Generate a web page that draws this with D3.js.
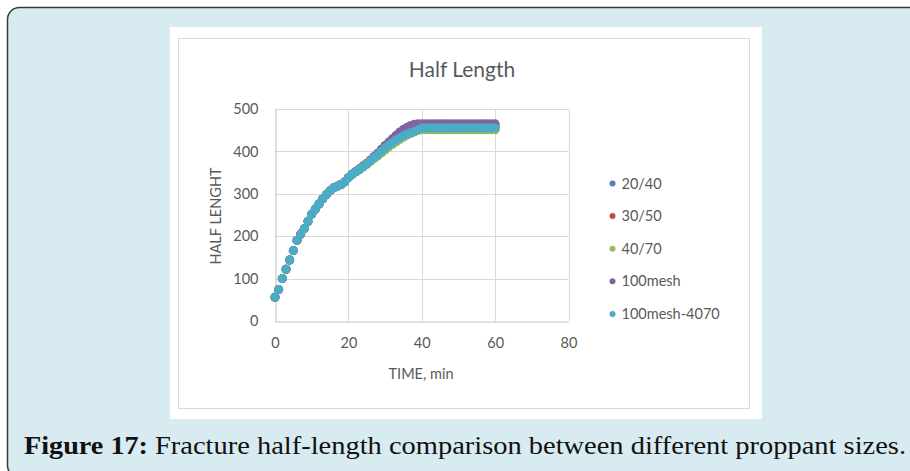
<!DOCTYPE html>
<html>
<head>
<meta charset="utf-8">
<script src="https://cdn.jsdelivr.net/npm/d3@7"></script>
<style>
  body { margin: 0; background: #fff; }
  svg { display: block; }
</style>
</head>
<body>
<div id="chart"></div>
<script>
// time in minutes
const time = [0, 1, 2, 3, 4, 5, 6, 7, 8, 9, 10, 11, 12, 13, 14, 15, 16, 17, 18, 19, 20,
    21, 22, 23, 24, 25, 26, 27, 28, 29, 30, 31, 32, 33, 34, 35, 36, 37, 38, 39, 40,
    41, 42, 43, 44, 45, 46, 47, 48, 49, 50, 51, 52, 53, 54, 55, 56, 57, 58, 59, 60];

const len2040 = [56, 74, 100, 122, 144, 166, 190, 205, 218, 235, 252, 264, 276, 288, 298, 307, 314, 318, 322, 328, 338,
    346, 352, 358, 364, 371, 379, 387, 394, 402, 411, 419, 427, 434, 441, 447, 452, 456, 459, 460, 460,
    460, 460, 460, 460, 460, 460, 460, 460, 460, 460, 460, 460, 460, 460, 460, 460, 460, 460, 460, 460];
const len3050 = [56, 74, 100, 122, 144, 166, 190, 205, 218, 235, 252, 264, 276, 288, 298, 307, 314, 318, 322, 328, 338,
    346, 352, 359, 366, 372, 378, 384, 391, 399, 407, 414, 420, 427, 433, 439, 444, 448, 452, 455, 456,
    456, 456, 456, 456, 456, 456, 456, 456, 456, 456, 456, 456, 456, 456, 456, 456, 456, 456, 456, 456];
const len4070 = [56, 74, 100, 122, 144, 166, 190, 205, 218, 235, 252, 264, 276, 288, 298, 307, 314, 318, 322, 328, 338,
    346, 352, 357, 363, 369, 376, 383, 389, 396, 403, 410, 416, 422, 428, 433, 438, 442, 446, 449, 451,
    451, 451, 451, 451, 451, 451, 451, 451, 451, 451, 451, 451, 451, 451, 451, 451, 451, 451, 451, 451];
const len100mesh = [56, 74, 100, 122, 144, 166, 190, 205, 218, 235, 252, 264, 276, 288, 298, 307, 314, 318, 322, 328, 338,
    346, 352, 358, 364, 371, 380, 388, 396, 405, 414, 422, 430, 438, 446, 452, 457, 461, 464, 465, 465,
    465, 465, 465, 465, 465, 465, 465, 465, 465, 465, 465, 465, 465, 465, 465, 465, 465, 465, 465, 465];
const len100mesh4070 = [56, 74, 100, 122, 144, 166, 190, 205, 218, 235, 252, 264, 276, 288, 298, 307, 314, 318, 322, 328, 338,
    346, 352, 358, 364, 371, 378, 385, 392, 400, 408, 415, 421, 427, 432, 437, 441, 444, 447, 451, 455,
    455, 455, 455, 455, 455, 455, 455, 455, 455, 455, 455, 455, 455, 455, 455, 455, 455, 455, 455, 455];

const seriesNames = ['20/40', '30/50', '40/70', '100mesh', '100mesh-4070'];
const seriesValues = [len2040, len3050, len4070, len100mesh, len100mesh4070];
const seriesColors = ['#4f81bd', '#c0504d', '#9bbb59', '#8064a2', '#4bacc6'];

const xTicks = [0, 20, 40, 60, 80];
const yTicks = [0, 100, 200, 300, 400, 500];

const W = 910, H = 471;
const svg = d3.select('#chart').append('svg').attr('width', W).attr('height', H);

// page frame
svg.append('rect')
    .attr('x', 7.5).attr('y', 7.5).attr('width', 1000).attr('height', 470)
    .attr('rx', 12)
    .attr('fill', '#d7ebf0')
    .attr('stroke', '#3a3a3a')
    .attr('stroke-width', 1.5);

// chart card
svg.append('rect').attr('x', 170).attr('y', 27).attr('width', 592).attr('height', 392).attr('fill', '#fff');
svg.append('rect').attr('x', 178.5).attr('y', 38.5).attr('width', 571).attr('height', 370)
    .attr('fill', '#fff').attr('stroke', '#d9d9d9');

const x = d3.scaleLinear().domain([0, 80]).range([275, 568.5]);
const y = d3.scaleLinear().domain([0, 500]).range([321, 109]);

const txt = '#595959';
const font = 'Lato, "Open Sans", sans-serif';

// grid
svg.append('g').selectAll('line').data(yTicks.slice(1)).enter().append('line')
    .attr('x1', x(0)).attr('x2', x(80))
    .attr('y1', (d) => Math.round(y(d)) + 0.5).attr('y2', (d) => Math.round(y(d)) + 0.5)
    .attr('stroke', '#d9d9d9');
svg.append('g').selectAll('line').data(xTicks.slice(1)).enter().append('line')
    .attr('x1', (d) => Math.round(x(d)) + 0.5).attr('x2', (d) => Math.round(x(d)) + 0.5)
    .attr('y1', y(0)).attr('y2', y(500))
    .attr('stroke', '#d9d9d9');

// axes
const xAxis = svg.append('g')
    .attr('transform', `translate(0,${Math.round(y(0)) + 0.5})`)
    .call(d3.axisBottom(x).tickValues(xTicks).tickSize(0).tickPadding(16));
const yAxis = svg.append('g')
    .attr('transform', `translate(${Math.round(x(0)) + 0.5},0)`)
    .call(d3.axisLeft(y).tickValues(yTicks).tickSize(0).tickPadding(17));
[xAxis, yAxis].forEach((g) => {
    g.select('.domain').attr('stroke', '#bfbfbf');
    g.selectAll('text').attr('fill', txt).style('font-family', font).style('font-size', '14.5px');
});

// points
seriesValues.forEach((vals, i) => {
    svg.append('g').selectAll('circle')
        .data(vals.map((v, j) => ({ t: time[j], v: v })))
        .enter()
        .append('circle')
        .attr('cx', (d) => x(d.t))
        .attr('cy', (d) => y(d.v))
        .attr('r', 4.5)
        .attr('fill', seriesColors[i]);
});

// title & axis titles
svg.append('text').attr('x', 462).attr('y', 77).attr('text-anchor', 'middle')
    .attr('fill', txt).style('font-family', font).style('font-size', '21px').text('Half Length');
svg.append('text').attr('x', 421).attr('y', 379).attr('text-anchor', 'middle')
    .attr('fill', txt).style('font-family', font).style('font-size', '14.5px').text('TIME, min');
svg.append('text').attr('transform', 'translate(221,216) rotate(-90)').attr('text-anchor', 'middle')
    .attr('fill', txt).style('font-family', font).style('font-size', '14.5px').text('HALF LENGHT');

// legend
const legend = svg.append('g').selectAll('g').data(seriesNames).enter().append('g')
    .attr('transform', (d, i) => `translate(612.5,${183.5 + i * 32.6})`);
legend.append('circle').attr('r', 3).attr('fill', (d, i) => seriesColors[i]);
legend.append('text').attr('x', 9).attr('dy', '0.35em')
    .attr('fill', txt).style('font-family', font).style('font-size', '14.5px').text((d) => d);

// caption
svg.append('text').attr('x', 24).attr('y', 454)
    .attr('textLength', 124).attr('lengthAdjust', 'spacingAndGlyphs')
    .style('font-family', '"Liberation Serif", serif').style('font-size', '25px').style('font-weight', 'bold')
    .attr('fill', '#111').text('Figure 17:');
svg.append('text').attr('x', 155).attr('y', 454)
    .attr('textLength', 751).attr('lengthAdjust', 'spacingAndGlyphs')
    .style('font-family', '"Liberation Serif", serif').style('font-size', '25px')
    .attr('fill', '#111').text('Fracture half-length comparison between different proppant sizes.');
</script>
</body>
</html>
